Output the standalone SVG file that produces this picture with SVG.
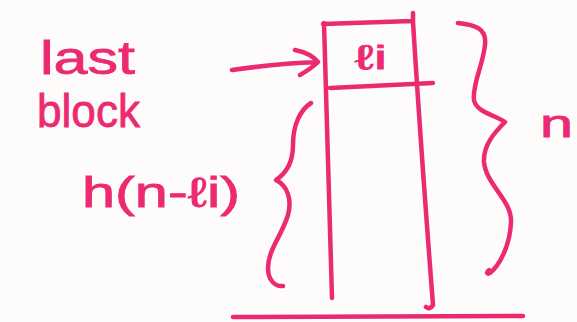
<svg xmlns="http://www.w3.org/2000/svg" width="577" height="322" viewBox="0 0 577 322">
<style>
.ink{fill:none;stroke:#ec2a72;stroke-width:4.5;stroke-linecap:round;stroke-linejoin:round}
.lbl{fill:#ec2a72;font-family:"Liberation Sans","DejaVu Sans",sans-serif;stroke:#ec2a72;stroke-width:0.8}
</style>
<rect width="577" height="322" fill="#fdfcfa"/>
<g id="block">
<path class="ink" d="M323 24 L412 21 M413 13 L413 22 Q421 150 433 305 Q430 310 426 307 M324 23 L332 298 M330 88 L433 83"/>
<text class="lbl" x="355" y="69" font-size="34" textLength="32" lengthAdjust="spacingAndGlyphs">ℓi</text>
</g>
<g id="last-block-label">
<text class="lbl" x="40" y="74" font-size="46" textLength="95" lengthAdjust="spacingAndGlyphs">last</text>
<text class="lbl" x="37" y="127" font-size="46" textLength="103" lengthAdjust="spacingAndGlyphs">block</text>
</g>
<g id="rest-brace">
<path class="ink" d="M311 103 C300 110 293 125 293 145 C293 160 288 172 276 180 C288 186 292 200 288 215 C282 235 268 250 268 268 C268 280 275 287 283 286"/>
<text class="lbl" x="82" y="207" font-size="42" textLength="158" lengthAdjust="spacingAndGlyphs">h(n-ℓi)</text>
</g>
<g id="n-brace">
<path class="ink" d="M458 23 C475 25 487 28 485 45 C483 65 472 85 474 100 C476 112 495 115 505 122 C495 132 483 145 484 162 C486 185 512 200 511 222 C510 245 500 265 490 273 C487 275 486 272 489 270"/>
<text class="lbl" x="540" y="137" font-size="38" textLength="33" lengthAdjust="spacingAndGlyphs">n</text>
</g>
<g id="ground">
<path class="ink" d="M233 317 L523 316" stroke-width="5"/>
</g>
<g id="connectors">
<path class="ink" d="M232 70 C260 66 290 63 318 62 M295 50 C305 52 313 56 318 62 C312 68 305 72 300 75"/>
</g>
</svg>
